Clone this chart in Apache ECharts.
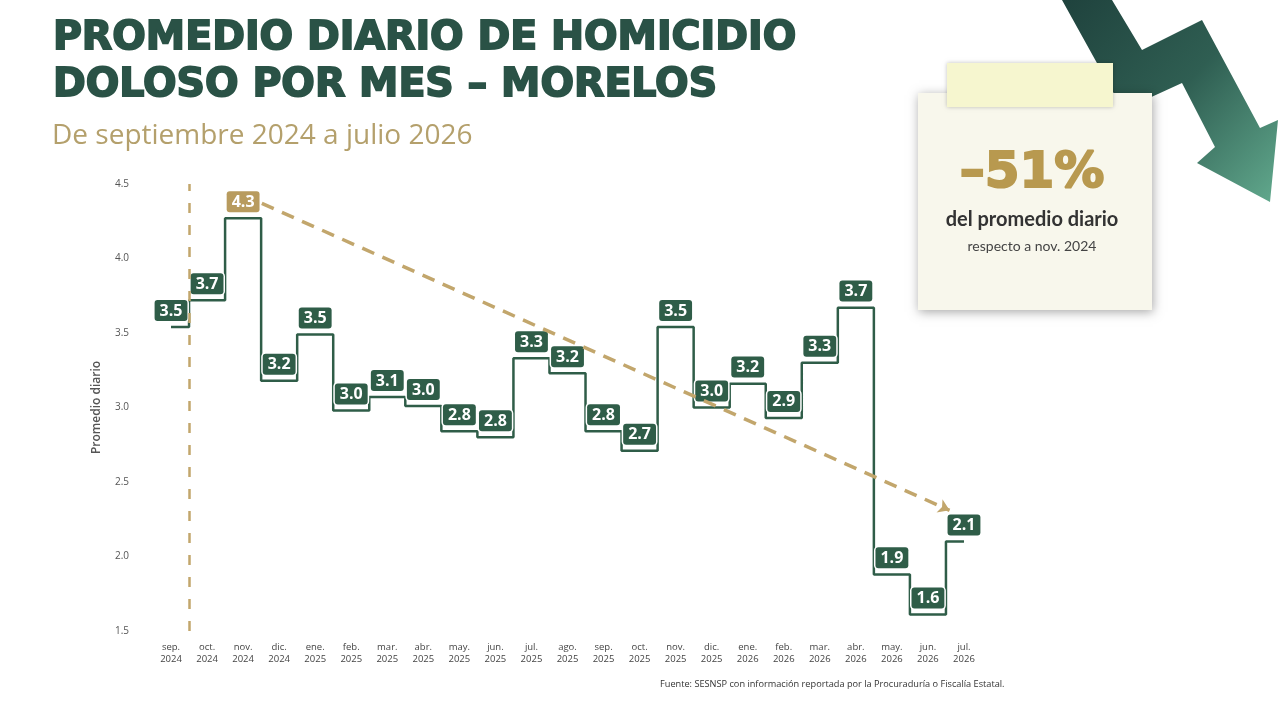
<!DOCTYPE html>
<html>
<head>
<meta charset="utf-8">
<script src="https://cdn.jsdelivr.net/npm/echarts@6/dist/echarts.min.js"></script>
<style>
html, body { margin: 0; padding: 0; background: #fff; }
#chart { width: 1283px; height: 722px; }
</style>
</head>
<body>
<div id="chart"></div>
<script>
const months = [
	'sep.\n2024', 'oct.\n2024', 'nov.\n2024', 'dic.\n2024',
	'ene.\n2025', 'feb.\n2025', 'mar.\n2025', 'abr.\n2025', 'may.\n2025', 'jun.\n2025',
	'jul.\n2025', 'ago.\n2025', 'sep.\n2025', 'oct.\n2025', 'nov.\n2025', 'dic.\n2025',
	'ene.\n2026', 'feb.\n2026', 'mar.\n2026', 'abr.\n2026', 'may.\n2026', 'jun.\n2026', 'jul.\n2026'
]
const promedio = [
	3.54, 3.72, 4.27, 3.18,
	3.49, 2.98, 3.07, 3.01, 2.84, 2.80,
	3.33, 3.23, 2.84, 2.71, 3.54, 3.00,
	3.16, 2.93, 3.30, 3.67, 1.88, 1.61, 2.10
]
const highlightIndex = 2          // nov. 2024, punto de referencia
const startMarker = 0.5           // línea vertical entre sep. y oct. 2024
const trendX = [2.52, 21.6]
const trendY = [4.37, 2.31]
const yTicks = { min: 1.5, max: 4.5, interval: 0.5 }

const green = '#2f5d48'
const gold = '#b89b5e'
const dashGold = '#c2a66c'

const chart = echarts.init(document.getElementById('chart'))

const seriesData = promedio.map((v, i) => {
	if (i !== highlightIndex) return v
	return { value: v, label: { backgroundColor: gold } }
})

chart.setOption({
	animation: false,
	backgroundColor: '#fff',
	grid: { left: 153, right: 301, top: 184, bottom: 91 },
	xAxis: [{
		type: 'category',
		data: months,
		boundaryGap: true,
		axisLine: { show: false },
		axisTick: { show: false },
		axisLabel: {
			margin: 10,
			fontFamily: 'Open Sans',
			fontSize: 9.5,
			lineHeight: 12,
			color: '#444',
			interval: 0
		}
	}, {
		type: 'value',
		min: -0.5,
		max: 22.5,
		show: false
	}],
	yAxis: {
		type: 'value',
		min: yTicks.min,
		max: yTicks.max,
		interval: yTicks.interval,
		name: 'Promedio diario',
		nameLocation: 'middle',
		nameGap: 50,
		nameTextStyle: { fontFamily: 'Open Sans', fontSize: 12, fontWeight: 600, color: '#555' },
		splitLine: { show: false },
		axisLine: { show: false },
		axisTick: { show: false },
		axisLabel: {
			margin: 24,
			fontFamily: 'Open Sans',
			fontSize: 10,
			color: '#555',
			formatter: v => v.toFixed(1)
		}
	},
	series: [{
		type: 'line',
		step: 'middle',
		data: seriesData,
		symbol: 'circle',
		symbolSize: 0.1,
		showSymbol: true,
		z: 3,
		itemStyle: { color: green },
		lineStyle: { color: green, width: 2.5 },
		label: {
			show: true,
			position: 'top',
			distance: 6,
			formatter: p => Number(p.value).toFixed(1),
			color: '#fff',
			fontFamily: 'Open Sans',
			fontWeight: 'bold',
			fontSize: 16,
			lineHeight: 18,
			backgroundColor: green,
			borderColor: '#fff',
			borderWidth: 1.5,
			borderRadius: 3,
			padding: [2, 5, 1, 5]
		}
	}, {
		type: 'line',
		xAxisIndex: 1,
		data: [],
		z: 4,
		markLine: {
			silent: true,
			symbol: ['none', 'none'],
			label: { show: false },
			data: [
				[
					{ coord: [trendX[0], trendY[0]], symbol: 'none' },
					{ coord: [trendX[1], trendY[1]], symbol: 'arrow', symbolSize: 11 }
				],
				{ xAxis: startMarker, lineStyle: { type: [10, 12], width: 2.5 } }
			],
			lineStyle: { color: dashGold, type: [13, 9], width: 3.5 }
		}
	}],
	graphic: [
		{
			type: 'text', left: 52, top: 15,
			style: {
				text: 'PROMEDIO DIARIO DE HOMICIDIO\nDOLOSO POR MES – MORELOS',
				font: 'bold 39.5px "DejaVu Sans"',
				lineHeight: 47,
				fill: '#2a5246',
				stroke: '#2a5246',
				lineWidth: 1.8
			}
		},
		{
			type: 'text', left: 52, top: 122,
			style: { text: 'De septiembre 2024 a julio 2026', font: '28px "Open Sans"', fill: '#b4a06c' }
		},
		{
			type: 'polygon',
			shape: {
				points: [[1062, 0], [1123, 110], [1182, 83], [1215, 147], [1197, 163], [1270, 202],
					[1278, 120], [1260, 128], [1202, 20], [1142, 50], [1112, 0]]
			},
			style: {
				fill: new echarts.graphic.LinearGradient(0, 0, 1, 1, [
					{ offset: 0, color: '#1f423d' },
					{ offset: 0.5, color: '#2f5e52' },
					{ offset: 1, color: '#62aa8e' }
				])
			},
			z: 10
		},
		{
			type: 'rect',
			shape: { x: 918, y: 93, width: 234, height: 217 },
			style: { fill: '#f8f7ec', shadowBlur: 10, shadowColor: 'rgba(0,0,0,0.35)', shadowOffsetX: 1, shadowOffsetY: 2 },
			z: 11
		},
		{
			type: 'rect',
			shape: { x: 947, y: 63, width: 166, height: 44 },
			style: { fill: '#f6f6cf', shadowBlur: 4, shadowColor: 'rgba(0,0,0,0.25)' },
			z: 12
		},
		{
			type: 'text', x: 1032, y: 174, z: 13,
			style: {
				text: '–51%', font: 'bold 50px "DejaVu Sans"', fill: '#b8994f',
				stroke: '#b8994f', lineWidth: 2, align: 'center', verticalAlign: 'middle'
			}
		},
		{
			type: 'text', x: 1032, y: 220, z: 13,
			style: { text: 'del promedio diario', font: 'bold 20px Lato', fill: '#333', align: 'center', verticalAlign: 'middle' }
		},
		{
			type: 'text', x: 1032, y: 246, z: 13,
			style: { text: 'respecto a nov. 2024', font: '14px Lato', fill: '#444', align: 'center', verticalAlign: 'middle' }
		},
		{
			type: 'text', left: 660, top: 680,
			style: {
				text: 'Fuente: SESNSP con información reportada por la Procuraduría o Fiscalía Estatal.',
				font: '9.2px "Open Sans"', fill: '#333'
			}
		}
	]
})
</script>
</body>
</html>
